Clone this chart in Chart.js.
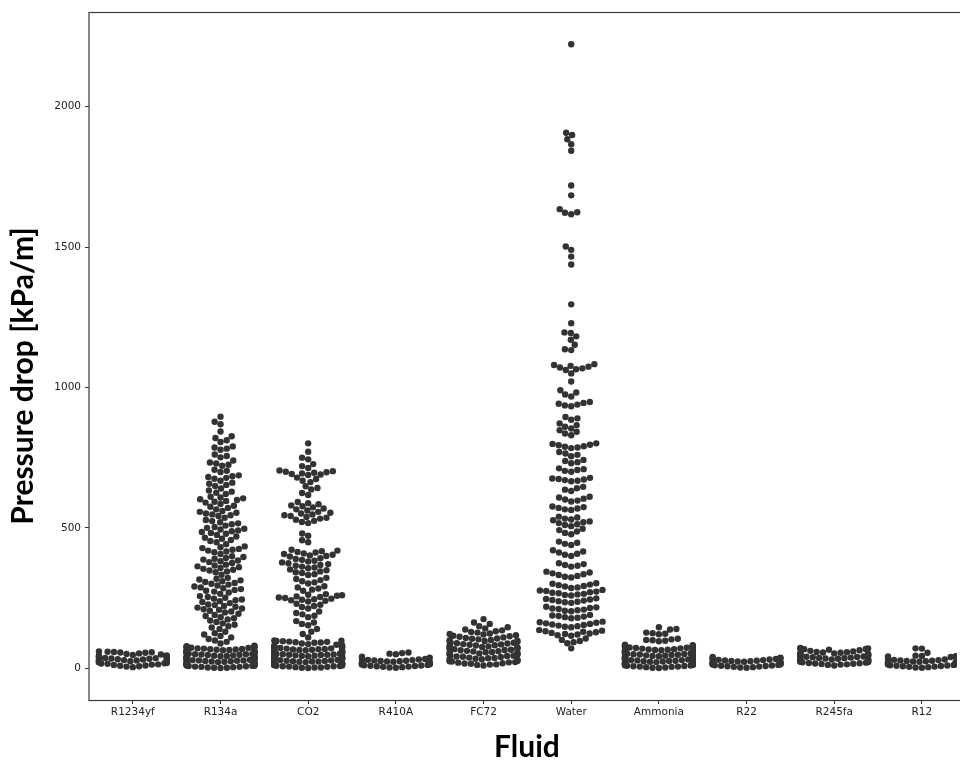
<!DOCTYPE html>
<html><head><meta charset="utf-8">
<script src="https://cdn.jsdelivr.net/npm/chart.js@4.4.1/dist/chart.umd.min.js"></script>
<style>html,body{margin:0;padding:0;background:#fff;overflow:hidden}#wrap{position:relative;width:960px;height:761px}</style>
</head><body><div id="wrap"><canvas id="c"></canvas></div>
<script>
const categories = ['R1234yf','R134a','CO2','R410A','FC72','Water','Ammonia','R22','R245fa','R12'];
const yTicks = [0, 500, 1000, 1500, 2000];
const yTitle = 'Pressure drop [kPa/m]';
const xTitle = 'Fluid';

const r1234yf = [4,6,7,9,10,12,13,14,16,17,18,19,21,22,23,24,25,26,27,28,29,30,31,32,33,34,35,36,37,38,39,40,41,43,44,46,47,49,51,53,55,56,57,58,59,60];
const r134a = [1,2,2,3,4,5,5,6,7,8,9,9,10,11,12,13,14,14,15,16,17,18,19,20,21,21,22,23,24,25,26,27,28,28,29,30,31,32,33,34,35,35,36,37,38,39,40,41,42,43,43,44,45,46,47,48,49,50,50,51,52,53,54,55,56,57,57,58,59,60,61,62,63,64,64,65,66,67,68,69,70,71,72,73,74,75,76,77,78,79,80,
 88,94,99,104,110,115,120,125,130,140,145,150,155,160,165,170,174,178,182,186,190,194,199,202,205,208,210,213,216,219,222,225,227,232,
 236,239,242,245,248,251,254,257,265,270,273,276,279,282,285,288,291,295,298,301,304,307,310,313,316,319,322,333,
 342,345,348,351,354,357,360,363,366,369,375,378,381,384,387,390,393,396,399,407,413,416,419,422,425,428,431,434,442,
 449,453,457,461,465,469,475,479,482,485,488,491,494,497,500,503,508,513,516,520,524,528,536,542,545,548,551,554,557,560,
 566,571,575,579,585,590,593,596,599,602,605,608,611,621,625,629,633,640,649,653,657,661,668,675,678,681,684,687,
 699,703,707,721,725,729,733,740,751,756,761,778,782,786,790,806,812,820,826,843,869,878,896];
const co2 = [1,2,3,3,4,5,6,7,7,8,9,10,11,12,12,13,14,15,16,17,18,18,19,20,21,22,23,24,24,25,26,27,28,29,30,30,31,32,33,34,35,36,36,37,38,39,40,41,42,42,43,44,45,46,47,48,48,49,50,51,52,53,54,54,55,56,57,58,59,60,60,61,62,63,64,65,66,66,67,68,69,70,71,72,73,74,75,76,77,78,79,80,82,84,86,88,
 91,92,93,94,95,96,97,98,99,110,122,130,140,153,158,163,168,182,187,192,197,202,213,218,222,226,230,
 238,240,242,244,246,248,250,252,254,256,258,260,262,264,276,280,284,288,292,302,306,310,314,318,322,
 332,335,339,342,345,349,352,356,359,362,365,368,371,374,377,380,383,386,389,392,
 398,400,402,404,407,409,412,414,417,419,422,449,456,472,480,
 517,521,525,529,533,536,539,542,545,548,551,554,557,562,566,569,573,577,580,584,588,592,
 617,624,637,642,648,663,668,674,679,688,690,692,694,696,698,700,702,704,713,720,727,744,750,771,801];
const r410a = [2,3,4,5,6,7,8,9,10,11,12,13,14,15,16,17,18,19,20,21,22,23,24,25,26,27,28,29,30,31,33,35,38,41,50,52,54,56];
const fc72 = [10,12,13,14,16,17,18,20,21,22,24,25,26,28,29,30,32,33,34,36,37,38,40,41,42,44,45,46,48,49,50,52,53,54,56,57,58,60,61,62,64,65,66,68,69,70,72,73,74,76,77,78,80,81,82,84,85,86,88,89,91,92,94,95,97,98,100,101,103,105,106,108,110,112,114,116,118,120,122,124,127,129,132,135,138,142,146,150,158,163,175];
const water = [71,89,93,97,101,106,
 116,118,120,122,124,126,128,130,132,134,136,
 146,148,150,152,154,156,158,160,162,164,166,
 178,180,182,184,186,188,190,
 203,205,207,209,211,213,215,217,219,
 233,235,237,239,241,243,245,247,249,
 259,261,263,265,267,269,271,273,275,277,279,
 286,288,291,293,296,298,301,303,
 323,326,329,332,335,338,341,344,
 362,365,368,371,374,
 400,404,408,412,416,420,
 439,443,447,451,
 477,482,487,492,497,
 506,510,513,517,520,523,527,530,533,537,540,
 564,566,569,571,574,576,
 594,597,601,604,608,611,
 631,636,641,646,
 666,668,670,672,674,676,678,
 700,703,706,709,712,
 730,734,738,742,
 755,760,765,770,
 784,786,789,791,794,796,799,801,
 830,836,842,848,854,860,866,872,
 885,890,895,
 933,936,939,942,945,948,
 968,975,982,990,
 1021,1050,1062,1065,1068,1071,1074,1077,1080,1083,
 1133,1136,1152,1170,1182,1194,1196,1229,1296,1438,1466,1490,1502,1617,1622,1624,1635,1684,1719,1843,1866,1884,1899,1907,2222];
const ammonia = [1,2,3,4,5,6,6,7,8,9,10,11,12,13,13,14,15,16,17,18,19,20,21,21,22,23,24,25,26,27,28,29,29,30,31,32,33,34,35,36,37,37,38,39,40,41,42,43,44,45,45,46,47,48,49,50,51,52,53,53,54,55,56,57,58,59,60,61,61,62,63,64,65,66,67,68,69,70,71,72,73,74,75,76,77,78,80,81,82,84,96,98,100,101,103,105,121,123,125,127,138,140,146];
const r22 = [2,3,4,5,6,7,8,9,10,11,12,13,14,15,16,17,18,19,20,21,22,23,24,25,26,27,28,29,30,31,32,33,35,37,38,40];
const r245fa = [10,12,13,14,15,16,17,18,19,20,21,22,23,24,25,26,27,28,29,30,31,32,33,34,35,36,37,38,39,40,41,42,43,44,45,46,47,48,49,50,51,52,53,54,55,56,57,58,60,62,64,66,68,69,70,71,72];
const r12 = [2,3,4,5,6,7,8,9,10,11,12,13,14,15,16,17,18,19,20,21,22,23,24,25,26,27,28,29,30,31,32,40,41,42,43,44,45,55,70,71];

const seriesValues = [r1234yf, r134a, co2, r410a, fc72, water, ammonia, r22, r245fa, r12];

function swarm(pys, d, half) {
  const order = pys.map((y, i) => i).sort((a, b) => pys[b] - pys[a]);
  const placed = [];
  const out = new Array(pys.length);
  for (const i of order) {
    const y = pys[i];
    const nb = placed.filter(p => Math.abs(p.y - y) < d);
    const cands = [0];
    let leftFirst = true;
    for (const p of nb) {
      const dx = Math.sqrt(d * d - (p.y - y) * (p.y - y));
      if (leftFirst) cands.push(p.x - dx, p.x + dx); else cands.push(p.x + dx, p.x - dx);
      leftFirst = !leftFirst;
    }
    cands.sort((a, b) => Math.abs(a) - Math.abs(b));
    let x = cands[cands.length - 1];
    for (const c of cands) {
      if (nb.every(p => (p.x - c) * (p.x - c) + (p.y - y) * (p.y - y) >= d * d - 1e-6)) { x = c; break; }
    }
    placed.push({x, y});
    out[i] = x;
  }
  return out.map(x => Math.max(-half, Math.min(half, x)));
}

const frameAndTitles = {
  id: 'frameAndTitles',
  afterDraw(chart) {
    const {ctx, chartArea: a} = chart;
    ctx.save();
    ctx.strokeStyle = '#3a3a3a';
    ctx.lineWidth = 1.2;
    ctx.strokeRect(a.left, a.top + 0.5, a.right - a.left + 10, a.bottom - a.top);
    ctx.fillStyle = '#000';
    ctx.font = 'bold 30px Lato';
    ctx.textAlign = 'center';
    ctx.textBaseline = 'alphabetic';
    ctx.fillText(xTitle, 527, 757);
    ctx.translate(33, 376);
    ctx.rotate(-Math.PI / 2);
    ctx.fillText(yTitle, 0, 0);
    ctx.restore();
  }
};

const tickFont = {family: 'DejaVu Sans', size: 10.5};
const chart = new Chart(document.getElementById('c'), {
  type: 'scatter',
  data: {
    datasets: categories.map((c, i) => ({
      label: c,
      data: [],
      pointRadius: 3.2,
      pointHoverRadius: 3.2,
      pointBackgroundColor: '#333333',
      pointBorderWidth: 0
    }))
  },
  options: {
    responsive: true,
    maintainAspectRatio: false,
    animation: false,
    events: [],
    layout: {padding: {top: 12, left: 0, right: 0, bottom: 0}},
    plugins: {legend: {display: false}, tooltip: {enabled: false}},
    scales: {
      x: {
        type: 'linear', min: -0.5, max: 9.398,
        afterBuildTicks: s => { s.ticks = categories.map((c, i) => ({value: i})); },
        afterFit: s => { s.height = 61; },
        ticks: {callback: v => categories[v], font: tickFont, color: '#222', padding: 2, autoSkip: false, maxRotation: 0},
        grid: {display: true, drawOnChartArea: false, drawTicks: true, tickLength: 4, color: '#333'},
        border: {display: false}
      },
      y: {
        min: -113, max: 2337,
        afterBuildTicks: s => { s.ticks = yTicks.map(v => ({value: v})); },
        afterFit: s => { s.width = 89; },
        ticks: {callback: v => String(v), font: tickFont, color: '#222', padding: 4},
        grid: {display: true, drawOnChartArea: false, drawTicks: true, tickLength: 4, color: '#333'},
        border: {display: false}
      }
    }
  },
  plugins: [frameAndTitles]
});

(function buildPoints() {
  const xs = chart.scales.x, ys = chart.scales.y;
  const d = 6.4, half = 34;
  chart.data.datasets.forEach((ds, i) => {
    const vals = seriesValues[i];
    const cx = xs.getPixelForValue(i);
    const pys = vals.map(v => ys.getPixelForValue(v));
    const dxs = swarm(pys, d, half);
    ds.data = vals.map((v, k) => ({x: xs.getValueForPixel(cx + dxs[k]), y: v}));
  });
  chart.update('none');
})();
</script>
</body></html>
